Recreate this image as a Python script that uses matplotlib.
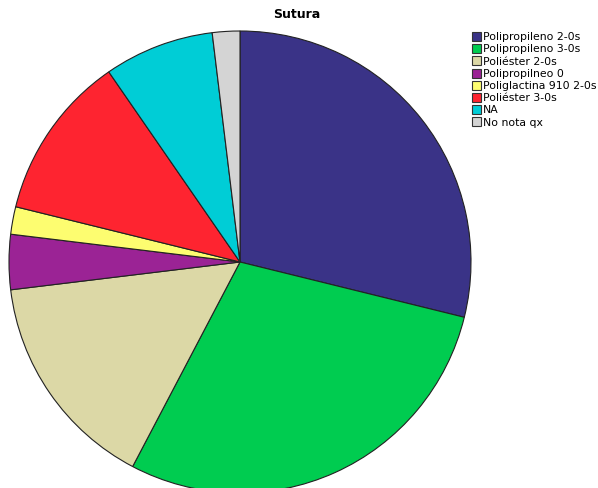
import matplotlib.pyplot as plt

labels = ["Polipropileno 2-0s", "Polipropileno 3-0s", "Poliéster 2-0s",
          "Polipropilneo 0", "Poliglactina 910 2-0s", "Poliéster 3-0s",
          "NA", "No nota qx"]
counts = [15, 15, 8, 2, 1, 6, 4, 1]
colors = ["#3a3387", "#00cc50", "#dcd8a6", "#9b2395", "#fdfd70",
          "#fe2430", "#00cdd6", "#d4d4d4"]

W, H = 598, 488
fig = plt.figure(figsize=(W / 100, H / 100), dpi=100)

# pie centred at (240, 262) px from top-left, radius ~231 px
cx, cy, r = 240, 262, 231
ax = fig.add_axes([(cx - r) / W, (H - cy - r) / H, 2 * r / W, 2 * r / H])
wedges, _ = ax.pie(counts, colors=colors, startangle=90, counterclock=False,
                   radius=1.0,
                   wedgeprops=dict(edgecolor="#222222", linewidth=0.8))
ax.set_xlim(-1.0, 1.0)
ax.set_ylim(-1.0, 1.0)
ax.set_aspect("equal")
ax.axis("off")

fig.text(297 / W, 1 - 14 / H, "Sutura", ha="center", va="center",
         fontsize=9, fontweight="bold")

leg = fig.legend(wedges, labels, loc="upper left",
                 bbox_to_anchor=(472 / W, 1 - 32 / H),
                 frameon=False, fontsize=7.8, handlelength=0.85,
                 handleheight=0.9, handletextpad=0.15, labelspacing=0.18,
                 borderaxespad=0, borderpad=0)
for h in leg.legend_handles:
    h.set_edgecolor("#333333")
    h.set_linewidth(0.8)

fig.savefig("out.png", dpi=100)
